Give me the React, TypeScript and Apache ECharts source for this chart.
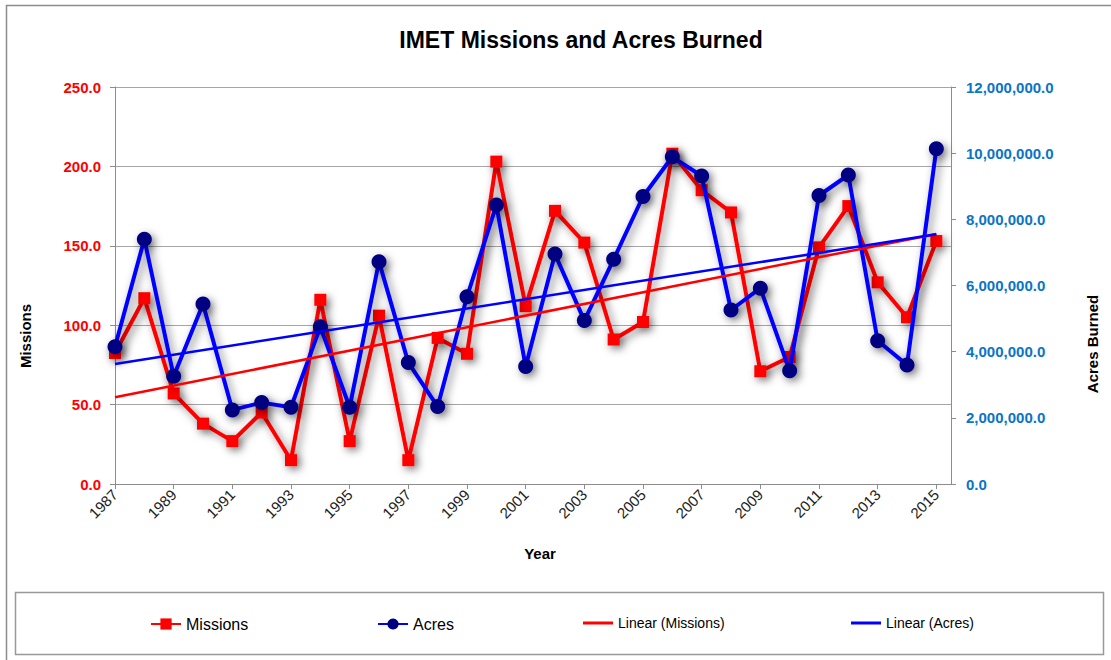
import React, { useEffect, useRef } from "react";
import * as echarts from "echarts";

const years = [
  1987, 1988, 1989, 1990, 1991, 1992, 1993, 1994, 1995, 1996, 1997, 1998, 1999, 2000, 2001,
  2002, 2003, 2004, 2005, 2006, 2007, 2008, 2009, 2010, 2011, 2012, 2013, 2014, 2015,
];
const missions = [
  82.5, 117, 57, 38, 27, 45, 15, 116, 27, 106, 15, 92, 82, 203, 112,
  172, 152, 91, 102, 208, 185, 171, 71, 80, 149, 175, 127, 105, 153,
];
const acres = [
  4150000, 7400000, 3260000, 5440000, 2240000, 2460000, 2320000, 4750000, 2320000, 6720000,
  3670000, 2340000, 5660000, 8430000, 3550000, 6950000, 4940000, 6790000, 8690000, 9890000,
  9310000, 5260000, 5920000, 3420000, 8720000, 9340000, 4330000, 3600000, 10130000,
];

const FONT = "'Liberation Sans', Arial, sans-serif";

function linearTrend(ys: number[]) {
  const n = ys.length;
  let sx = 0, sy = 0, sxx = 0, sxy = 0;
  for (let i = 0; i < n; i++) {
    sx += i; sy += ys[i]; sxx += i * i; sxy += i * ys[i];
  }
  const b = (n * sxy - sx * sy) / (n * sxx - sx * sx);
  const a = (sy - b * sx) / n;
  return [[0, a], [n - 1, a + b * (n - 1)]];
}

const shadow = {
  shadowColor: "rgba(0,0,0,0.5)",
  shadowBlur: 8,
  shadowOffsetX: 3,
  shadowOffsetY: 3,
};

export default function App() {
  const ref = useRef<HTMLDivElement>(null);
  useEffect(() => {
    if (!ref.current) return;
    const chart = echarts.init(ref.current, undefined, { renderer: "svg" });
    const base = years[0];
    const missionData = years.map((y, i) => [y - base, missions[i]]);
    const acresData = years.map((y, i) => [y - base, acres[i]]);
    chart.setOption({
      animation: false,
      backgroundColor: "#ffffff",
      textStyle: { fontFamily: FONT },
      title: {
        text: "IMET Missions and Acres Burned",
        left: 581,
        top: 28,
        padding: 0,
        textAlign: "center",
        textStyle: { fontSize: 23, fontWeight: "bold", color: "#000", fontFamily: FONT },
      },
      grid: { left: 115, right: 160, top: 87, bottom: 176, containLabel: false },
      xAxis: {
        type: "value",
        min: 0,
        max: 28.5,
        interval: 2,
        splitLine: { show: false },
        axisLine: { show: true, onZero: false, lineStyle: { color: "#8c8c8c", width: 1 } },
        axisTick: { show: true, length: 5, lineStyle: { color: "#8c8c8c" } },
        axisLabel: {
          rotate: 45,
          margin: 8,
          fontSize: 15,
          color: "#222",
          fontFamily: FONT,
          showMaxLabel: false,
          formatter: (v: number) => (Number.isInteger(v) ? String(base + v) : ""),
        },
      },
      yAxis: [
        {
          type: "value",
          min: 0,
          max: 250,
          interval: 50,
          position: "left",
          axisLine: { show: true, lineStyle: { color: "#8c8c8c" } },
          axisTick: { show: true, length: 5, lineStyle: { color: "#8c8c8c" } },
          splitLine: { show: true, lineStyle: { color: "#a6a6a6", width: 1 } },
          axisLabel: {
            margin: 14,
            fontSize: 15,
            fontWeight: "bold",
            color: "#ff0000",
            fontFamily: FONT,
            formatter: (v: number) => v.toFixed(1),
          },
        },
        {
          type: "value",
          min: 0,
          max: 12000000,
          interval: 2000000,
          position: "right",
          axisLine: { show: true, lineStyle: { color: "#8c8c8c" } },
          axisTick: { show: true, length: 5, lineStyle: { color: "#8c8c8c" } },
          splitLine: { show: false },
          axisLabel: {
            margin: 15,
            fontSize: 15,
            fontWeight: "bold",
            color: "#0a74c6",
            fontFamily: FONT,
            formatter: (v: number) => v.toLocaleString("en-US") + ".0",
          },
        },
      ],
      legend: [
        {
          data: ["Missions"], left: 150, top: 616, padding: 0, itemWidth: 30, itemHeight: 14,
          textStyle: { fontSize: 16, color: "#000", fontFamily: FONT },
        },
        {
          data: ["Acres"], left: 377, top: 616, padding: 0, itemWidth: 30, itemHeight: 14,
          textStyle: { fontSize: 16, color: "#000", fontFamily: FONT },
        },
        {
          data: [{ name: "Linear (Missions)", icon: "rect" }], left: 583, top: 616, padding: 0,
          itemWidth: 30, itemHeight: 3,
          textStyle: { fontSize: 14, color: "#000", fontFamily: FONT },
        },
        {
          data: [{ name: "Linear (Acres)", icon: "rect" }], left: 851, top: 616, padding: 0,
          itemWidth: 30, itemHeight: 3,
          textStyle: { fontSize: 14, color: "#000", fontFamily: FONT },
        },
      ],
      graphic: [
        {
          type: "rect",
          z: -10,
          shape: { x: 6.5, y: 5.5, width: 1120, height: 700 },
          style: { fill: "none", stroke: "#8c8c8c", lineWidth: 1.5 },
          silent: true,
        },
        {
          type: "rect",
          z: -10,
          shape: { x: 15.5, y: 592.5, width: 1088, height: 62 },
          style: { fill: "#fff", stroke: "#999", lineWidth: 1.5 },
          silent: true,
        },
        {
          type: "text",
          x: 25,
          y: 336,
          rotation: Math.PI / 2,
          style: {
            text: "Missions", fill: "#000", font: `bold 15px ${FONT}`,
            align: "center", verticalAlign: "middle", textAlign: "center", textVerticalAlign: "middle",
          },
        },
        {
          type: "text",
          x: 1092,
          y: 344,
          rotation: Math.PI / 2,
          style: {
            text: "Acres Burned", fill: "#000", font: `bold 15px ${FONT}`,
            align: "center", verticalAlign: "middle", textAlign: "center", textVerticalAlign: "middle",
          },
        },
        {
          type: "text",
          x: 540,
          y: 553,
          style: {
            text: "Year", fill: "#000", font: `bold 15px ${FONT}`,
            align: "center", verticalAlign: "middle", textAlign: "center", textVerticalAlign: "middle",
          },
        },
      ],
      series: [
        {
          name: "Missions",
          type: "line",
          yAxisIndex: 0,
          data: missionData,
          symbol: "rect",
          symbolSize: 12,
          lineStyle: { color: "#ff0000", width: 4, ...shadow },
          itemStyle: { color: "#ff0000", ...shadow },
          z: 2,
        },
        {
          name: "Acres",
          type: "line",
          yAxisIndex: 1,
          data: acresData,
          symbol: "circle",
          symbolSize: 15,
          lineStyle: { color: "#0000ff", width: 4, ...shadow },
          itemStyle: { color: "#000080", ...shadow },
          z: 3,
        },
        {
          name: "Linear (Missions)",
          type: "line",
          yAxisIndex: 0,
          data: linearTrend(missions),
          symbol: "none",
          lineStyle: { color: "#ff0000", width: 2.5 },
          itemStyle: { color: "#ff0000" },
          z: 4,
        },
        {
          name: "Linear (Acres)",
          type: "line",
          yAxisIndex: 1,
          data: linearTrend(acres),
          symbol: "none",
          lineStyle: { color: "#0000ff", width: 2.5 },
          itemStyle: { color: "#0000ff" },
          z: 5,
        },
      ],
    });
    return () => chart.dispose();
  }, []);
  return (
    <div
      ref={ref}
      style={{ position: "fixed", left: 0, top: 0, width: 1111, height: 660, background: "#fff" }}
    />
  );
}
